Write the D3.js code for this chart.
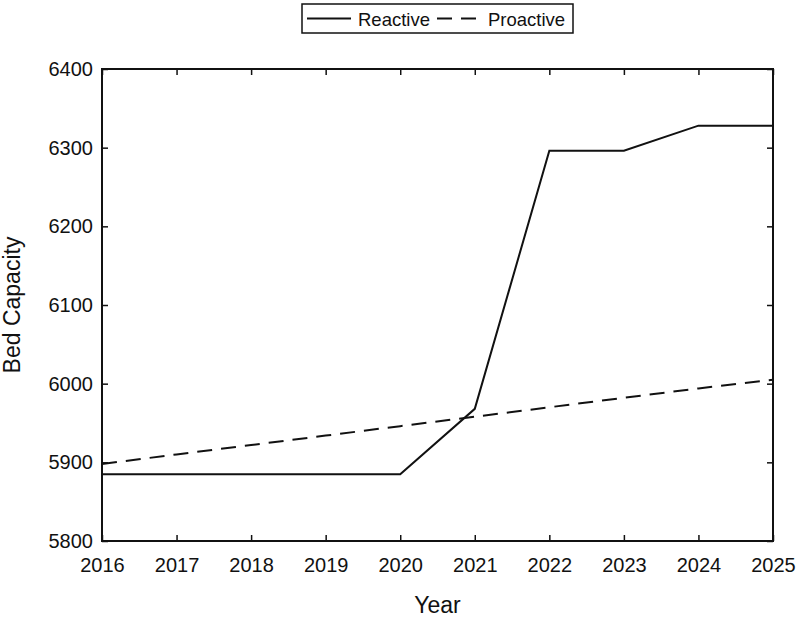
<!DOCTYPE html>
<html>
<head>
<meta charset="utf-8">
<script src="https://cdn.jsdelivr.net/npm/d3@7"></script>
<style>
  body { margin: 0; background: #fff; }
  text { font-family: "Liberation Sans", Arial, sans-serif; fill: #111; }
</style>
</head>
<body>
<div id="chart"></div>
<script>
// chart data
var years = [2016, 2017, 2018, 2019, 2020, 2021, 2022, 2023, 2024, 2025];
var reactive = [5885, 5885, 5885, 5885, 5885, 5968, 6296, 6296, 6328, 6328];
var proactive = [5898, 5910, 5922, 5934, 5946, 5958, 5970, 5982, 5994, 6005];
var yTicks = [5800, 5900, 6000, 6100, 6200, 6300, 6400];
var seriesNames = ["Reactive", "Proactive"];

var width = 800;
var height = 619;
var margin = { top: 69, right: 27, bottom: 78, left: 102 };
var innerW = width - margin.left - margin.right;
var innerH = height - margin.top - margin.bottom;

var svg = d3.select("#chart")
  .append("svg")
  .attr("width", width)
  .attr("height", height);

var g = svg.append("g")
  .attr("transform", "translate(" + margin.left + "," + margin.top + ")");

var x = d3.scaleLinear().domain([2016, 2025]).range([0, innerW]);
var y = d3.scaleLinear().domain([5800, 6400]).range([innerH, 0]);

// axes (ticks pointing inward, mirrored on top/right)
function styleAxis(sel) {
  sel.select(".domain").remove();
  sel.selectAll(".tick line").attr("stroke", "#111").attr("stroke-width", 1.5);
  sel.selectAll(".tick text").style("font-size", "20px");
}

g.append("g")
  .attr("transform", "translate(0," + innerH + ")")
  .call(d3.axisBottom(x).tickValues(years).tickFormat(d3.format("d")).tickSizeInner(-6).tickPadding(17))
  .call(styleAxis);

g.append("g")
  .call(d3.axisTop(x).tickValues(years).tickFormat("").tickSizeInner(-6))
  .call(styleAxis);

g.append("g")
  .call(d3.axisLeft(y).tickValues(yTicks).tickFormat(d3.format("d")).tickSizeInner(-6).tickPadding(9))
  .call(styleAxis);

g.append("g")
  .attr("transform", "translate(" + innerW + ",0)")
  .call(d3.axisRight(y).tickValues(yTicks).tickFormat("").tickSizeInner(-6))
  .call(styleAxis);

// frame
g.append("rect")
  .attr("width", innerW)
  .attr("height", innerH)
  .attr("fill", "none")
  .attr("stroke", "#111")
  .attr("stroke-width", 2);

// lines
var line = d3.line()
  .x(function (d, i) { return x(years[i]); })
  .y(function (d) { return y(d); });

g.append("path")
  .datum(reactive)
  .attr("d", line)
  .attr("fill", "none")
  .attr("stroke", "#111")
  .attr("stroke-width", 2);

g.append("path")
  .datum(proactive)
  .attr("d", line)
  .attr("fill", "none")
  .attr("stroke", "#111")
  .attr("stroke-width", 2)
  .attr("stroke-dasharray", "15,9");

// axis labels
svg.append("text")
  .attr("x", margin.left + innerW / 2)
  .attr("y", 613)
  .attr("text-anchor", "middle")
  .style("font-size", "23px")
  .text("Year");

svg.append("text")
  .attr("transform", "translate(20," + (margin.top + innerH / 2) + ") rotate(-90)")
  .attr("text-anchor", "middle")
  .style("font-size", "23px")
  .text("Bed Capacity");

// legend
var legend = svg.append("g");
legend.append("rect")
  .attr("x", 302)
  .attr("y", 4)
  .attr("width", 271)
  .attr("height", 29)
  .attr("fill", "#fff")
  .attr("stroke", "#111")
  .attr("stroke-width", 1.5);

legend.append("line")
  .attr("x1", 307).attr("x2", 351)
  .attr("y1", 18.5).attr("y2", 18.5)
  .attr("stroke", "#111").attr("stroke-width", 2);
legend.append("text")
  .attr("x", 358).attr("y", 25.5)
  .style("font-size", "18.5px")
  .text(seriesNames[0]);

legend.append("line")
  .attr("x1", 437).attr("x2", 477)
  .attr("y1", 18.5).attr("y2", 18.5)
  .attr("stroke", "#111").attr("stroke-width", 2)
  .attr("stroke-dasharray", "15,9");
legend.append("text")
  .attr("x", 488).attr("y", 25.5)
  .style("font-size", "18.5px")
  .text(seriesNames[1]);
</script>
</body>
</html>
